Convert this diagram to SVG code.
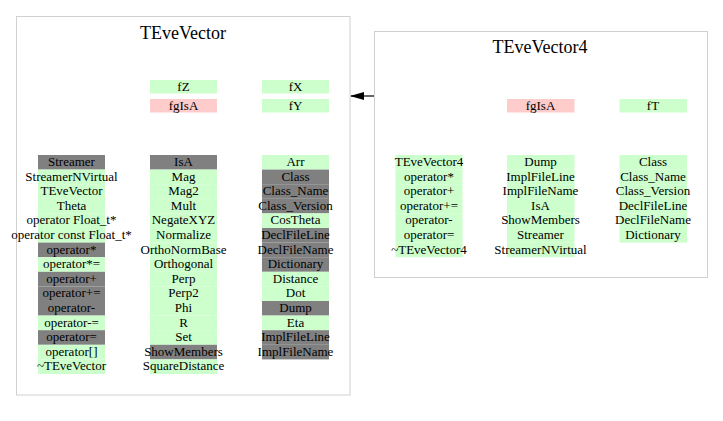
<svg xmlns="http://www.w3.org/2000/svg" width="723" height="421" viewBox="0 0 723 421">
<style>
.box{fill:#ffffff;stroke:#d0d0d0;stroke-width:1}
.g{fill:#ccffcc}
.k{fill:#808080}
.p{fill:#ffcccc}
.t{font-family:"Liberation Serif","Times New Roman",serif;font-size:13px;text-anchor:middle;fill:#000}
.h{font-family:"Liberation Serif","Times New Roman",serif;font-size:18px;text-anchor:middle;fill:#000}
</style>
<defs>
<marker id="ah" markerWidth="14" markerHeight="8" refX="0" refY="4" orient="auto" markerUnits="userSpaceOnUse">
<path d="M0,4 L14,0 L14,8 Z" fill="#000"/>
</marker>
</defs>
<rect width="723" height="421" fill="#ffffff"/>
<g id="TEveVector">
<rect class="box" x="16.5" y="16.5" width="333.5" height="378.5"/>
<text class="h" x="183" y="39">TEveVector</text>
<rect class="g" x="150" y="80" width="67" height="13.5"/><text class="t" x="183.5" y="90.5">fZ</text>
<rect class="p" x="150" y="99" width="67" height="13.5"/><text class="t" x="183.5" y="109.5">fgIsA</text>
<rect class="g" x="262" y="80" width="67" height="13.5"/><text class="t" x="295.5" y="90.5">fX</text>
<rect class="g" x="262" y="99" width="67" height="13.5"/><text class="t" x="295.5" y="109.5">fY</text>
<!-- column 1 -->
<rect class="k" x="38" y="155" width="67" height="14.6"/><text class="t" x="71.5" y="166">Streamer</text>
<rect class="g" x="38" y="169.6" width="67" height="14.6"/><text class="t" x="71.5" y="180.6">StreamerNVirtual</text>
<rect class="g" x="38" y="184.2" width="67" height="14.6"/><text class="t" x="71.5" y="195.2">TEveVector</text>
<rect class="g" x="38" y="198.8" width="67" height="14.6"/><text class="t" x="71.5" y="209.8">Theta</text>
<rect class="g" x="38" y="213.4" width="67" height="14.6"/><text class="t" x="71.5" y="224.4">operator Float_t*</text>
<rect class="g" x="38" y="228" width="67" height="14.6"/><text class="t" x="71.5" y="239">operator const Float_t*</text>
<rect class="k" x="38" y="242.6" width="67" height="14.6"/><text class="t" x="71.5" y="253.6">operator*</text>
<rect class="g" x="38" y="257.2" width="67" height="14.6"/><text class="t" x="71.5" y="268.2">operator*=</text>
<rect class="k" x="38" y="271.8" width="67" height="14.6"/><text class="t" x="71.5" y="282.8">operator+</text>
<rect class="k" x="38" y="286.4" width="67" height="14.6"/><text class="t" x="71.5" y="297.4">operator+=</text>
<rect class="k" x="38" y="301" width="67" height="14.6"/><text class="t" x="71.5" y="312">operator-</text>
<rect class="g" x="38" y="315.6" width="67" height="14.6"/><text class="t" x="71.5" y="326.6">operator-=</text>
<rect class="k" x="38" y="330.2" width="67" height="14.6"/><text class="t" x="71.5" y="341.2">operator=</text>
<rect class="g" x="38" y="344.8" width="67" height="14.6"/><text class="t" x="71.5" y="355.8">operator[]</text>
<rect class="g" x="38" y="359.4" width="67" height="14.6"/><text class="t" x="71.5" y="370.4">~TEveVector</text>
<!-- column 2 -->
<rect class="k" x="150" y="155" width="67" height="14.6"/><text class="t" x="183.5" y="166">IsA</text>
<rect class="g" x="150" y="169.6" width="67" height="14.6"/><text class="t" x="183.5" y="180.6">Mag</text>
<rect class="g" x="150" y="184.2" width="67" height="14.6"/><text class="t" x="183.5" y="195.2">Mag2</text>
<rect class="g" x="150" y="198.8" width="67" height="14.6"/><text class="t" x="183.5" y="209.8">Mult</text>
<rect class="g" x="150" y="213.4" width="67" height="14.6"/><text class="t" x="183.5" y="224.4">NegateXYZ</text>
<rect class="g" x="150" y="228" width="67" height="14.6"/><text class="t" x="183.5" y="239">Normalize</text>
<rect class="g" x="150" y="242.6" width="67" height="14.6"/><text class="t" x="183.5" y="253.6">OrthoNormBase</text>
<rect class="g" x="150" y="257.2" width="67" height="14.6"/><text class="t" x="183.5" y="268.2">Orthogonal</text>
<rect class="g" x="150" y="271.8" width="67" height="14.6"/><text class="t" x="183.5" y="282.8">Perp</text>
<rect class="g" x="150" y="286.4" width="67" height="14.6"/><text class="t" x="183.5" y="297.4">Perp2</text>
<rect class="g" x="150" y="301" width="67" height="14.6"/><text class="t" x="183.5" y="312">Phi</text>
<rect class="g" x="150" y="315.6" width="67" height="14.6"/><text class="t" x="183.5" y="326.6">R</text>
<rect class="g" x="150" y="330.2" width="67" height="14.6"/><text class="t" x="183.5" y="341.2">Set</text>
<rect class="k" x="150" y="344.8" width="67" height="14.6"/><text class="t" x="183.5" y="355.8">ShowMembers</text>
<rect class="g" x="150" y="359.4" width="67" height="14.6"/><text class="t" x="183.5" y="370.4">SquareDistance</text>
<!-- column 3 -->
<rect class="g" x="262" y="155" width="67" height="14.6"/><text class="t" x="295.5" y="166">Arr</text>
<rect class="k" x="262" y="169.6" width="67" height="14.6"/><text class="t" x="295.5" y="180.6">Class</text>
<rect class="k" x="262" y="184.2" width="67" height="14.6"/><text class="t" x="295.5" y="195.2">Class_Name</text>
<rect class="k" x="262" y="198.8" width="67" height="14.6"/><text class="t" x="295.5" y="209.8">Class_Version</text>
<rect class="g" x="262" y="213.4" width="67" height="14.6"/><text class="t" x="295.5" y="224.4">CosTheta</text>
<rect class="k" x="262" y="228" width="67" height="14.6"/><text class="t" x="295.5" y="239">DeclFileLine</text>
<rect class="k" x="262" y="242.6" width="67" height="14.6"/><text class="t" x="295.5" y="253.6">DeclFileName</text>
<rect class="k" x="262" y="257.2" width="67" height="14.6"/><text class="t" x="295.5" y="268.2">Dictionary</text>
<rect class="g" x="262" y="271.8" width="67" height="14.6"/><text class="t" x="295.5" y="282.8">Distance</text>
<rect class="g" x="262" y="286.4" width="67" height="14.6"/><text class="t" x="295.5" y="297.4">Dot</text>
<rect class="k" x="262" y="301" width="67" height="14.6"/><text class="t" x="295.5" y="312">Dump</text>
<rect class="g" x="262" y="315.6" width="67" height="14.6"/><text class="t" x="295.5" y="326.6">Eta</text>
<rect class="k" x="262" y="330.2" width="67" height="14.6"/><text class="t" x="295.5" y="341.2">ImplFileLine</text>
<rect class="k" x="262" y="344.8" width="67" height="14.6"/><text class="t" x="295.5" y="355.8">ImplFileName</text>
</g>
<g id="TEveVector4">
<rect class="box" x="374.5" y="31.5" width="333" height="246"/>
<text class="h" x="540" y="53">TEveVector4</text>
<rect class="p" x="507" y="99" width="67.5" height="13.5"/><text class="t" x="540.5" y="109.5">fgIsA</text>
<rect class="g" x="619.5" y="99" width="67.5" height="13.5"/><text class="t" x="653" y="109.5">fT</text>
<!-- column 1 -->
<rect class="g" x="395.5" y="155" width="67" height="14.6"/><text class="t" x="429" y="166">TEveVector4</text>
<rect class="g" x="395.5" y="169.6" width="67" height="14.6"/><text class="t" x="429" y="180.6">operator*</text>
<rect class="g" x="395.5" y="184.2" width="67" height="14.6"/><text class="t" x="429" y="195.2">operator+</text>
<rect class="g" x="395.5" y="198.8" width="67" height="14.6"/><text class="t" x="429" y="209.8">operator+=</text>
<rect class="g" x="395.5" y="213.4" width="67" height="14.6"/><text class="t" x="429" y="224.4">operator-</text>
<rect class="g" x="395.5" y="228" width="67" height="14.6"/><text class="t" x="429" y="239">operator=</text>
<rect class="g" x="395.5" y="242.6" width="67" height="14.6"/><text class="t" x="429" y="253.6">~TEveVector4</text>
<!-- column 2 -->
<rect class="g" x="507" y="155" width="67.5" height="14.6"/><text class="t" x="540.5" y="166">Dump</text>
<rect class="g" x="507" y="169.6" width="67.5" height="14.6"/><text class="t" x="540.5" y="180.6">ImplFileLine</text>
<rect class="g" x="507" y="184.2" width="67.5" height="14.6"/><text class="t" x="540.5" y="195.2">ImplFileName</text>
<rect class="g" x="507" y="198.8" width="67.5" height="14.6"/><text class="t" x="540.5" y="209.8">IsA</text>
<rect class="g" x="507" y="213.4" width="67.5" height="14.6"/><text class="t" x="540.5" y="224.4">ShowMembers</text>
<rect class="g" x="507" y="228" width="67.5" height="14.6"/><text class="t" x="540.5" y="239">Streamer</text>
<rect class="g" x="507" y="242.6" width="67.5" height="14.6"/><text class="t" x="540.5" y="253.6">StreamerNVirtual</text>
<!-- column 3 -->
<rect class="g" x="619.5" y="155" width="67.5" height="14.6"/><text class="t" x="653" y="166">Class</text>
<rect class="g" x="619.5" y="169.6" width="67.5" height="14.6"/><text class="t" x="653" y="180.6">Class_Name</text>
<rect class="g" x="619.5" y="184.2" width="67.5" height="14.6"/><text class="t" x="653" y="195.2">Class_Version</text>
<rect class="g" x="619.5" y="198.8" width="67.5" height="14.6"/><text class="t" x="653" y="209.8">DeclFileLine</text>
<rect class="g" x="619.5" y="213.4" width="67.5" height="14.6"/><text class="t" x="653" y="224.4">DeclFileName</text>
<rect class="g" x="619.5" y="228" width="67.5" height="14.6"/><text class="t" x="653" y="239">Dictionary</text>
</g>
<g id="connectors">
<line x1="374" y1="96" x2="351" y2="96" stroke="#000" stroke-width="1.2"/>
<path d="M350,96 L364,92 L364,100 Z" fill="#000"/>
</g>
</svg>
